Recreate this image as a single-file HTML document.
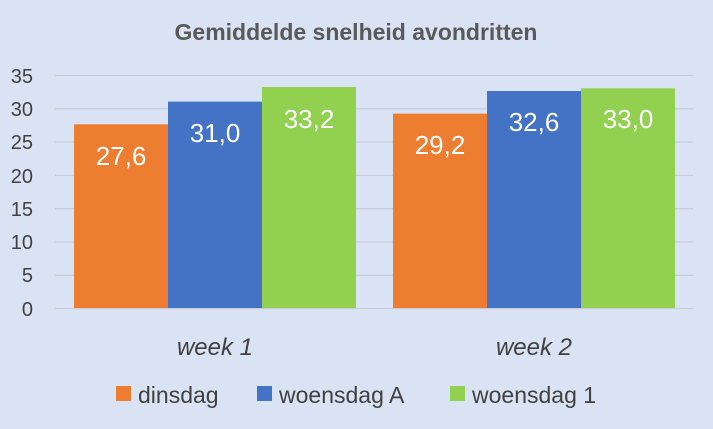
<!DOCTYPE html><html><head><meta charset="utf-8"><style>body{margin:0}svg{display:block}text{font-family:"Liberation Sans",sans-serif}</style></head><body>
<svg width="713" height="429" xmlns="http://www.w3.org/2000/svg">
<rect width="713" height="429" fill="#dae3f3"/>
<text x="356" y="40" text-anchor="middle" font-size="23" font-weight="bold" fill="#595959">Gemiddelde snelheid avondritten</text>
<g stroke="#c9cfd9" stroke-width="1.3">
<line x1="55" x2="693" y1="75.5" y2="75.5"/><line x1="55" x2="693" y1="108.8" y2="108.8"/><line x1="55" x2="693" y1="142.1" y2="142.1"/><line x1="55" x2="693" y1="175.4" y2="175.4"/><line x1="55" x2="693" y1="208.7" y2="208.7"/><line x1="55" x2="693" y1="242" y2="242"/><line x1="55" x2="693" y1="275.3" y2="275.3"/><line x1="55" x2="693" y1="308.5" y2="308.5"/>
</g>
<g font-size="20" fill="#404040" text-anchor="end">
<text x="33" y="83">35</text><text x="33" y="116">30</text><text x="33" y="149">25</text><text x="33" y="183">20</text><text x="33" y="216">15</text><text x="33" y="249">10</text><text x="33" y="282">5</text><text x="33" y="316">0</text>
</g>
<rect x="74" y="124.3" width="94" height="183.7" fill="#ed7d31"/>
<rect x="168" y="101.6" width="94" height="206.4" fill="#4472c4"/>
<rect x="262" y="87" width="94" height="221" fill="#92d050"/>
<rect x="393" y="113.6" width="94" height="194.4" fill="#ed7d31"/>
<rect x="487" y="91" width="94" height="217" fill="#4472c4"/>
<rect x="581" y="88.3" width="94" height="219.7" fill="#92d050"/>
<g font-size="26" fill="#fff" text-anchor="middle">
<text x="121" y="165">27,6</text><text x="215" y="142">31,0</text><text x="309" y="128">33,2</text>
<text x="440" y="154">29,2</text><text x="534" y="131">32,6</text><text x="628" y="128">33,0</text>
</g>
<g font-size="24" font-style="italic" fill="#404040" text-anchor="middle">
<text x="215" y="355">week 1</text><text x="534" y="355">week 2</text>
</g>
<g font-size="23" fill="#404040">
<rect x="116" y="386" width="15" height="15" fill="#ed7d31"/><text x="138" y="403">dinsdag</text>
<rect x="257" y="386" width="15" height="15" fill="#4472c4"/><text x="279" y="403">woensdag A</text>
<rect x="450" y="386" width="15" height="15" fill="#92d050"/><text x="472" y="403">woensdag 1</text>
</g>
</svg></body></html>
